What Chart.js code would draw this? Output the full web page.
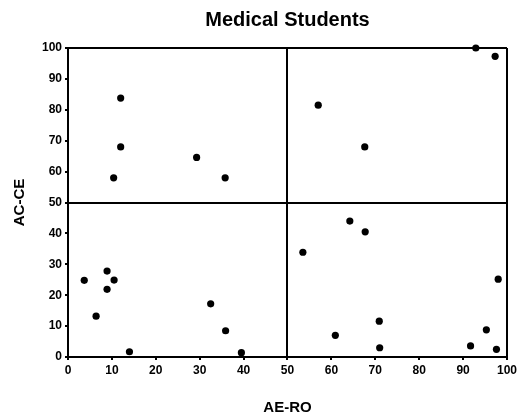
<!DOCTYPE html>
<html>
<head>
<meta charset="utf-8">
<title>Medical Students</title>
<script src="https://cdn.jsdelivr.net/npm/chart.js@4"></script>
<style>
  html, body { margin: 0; padding: 0; background: #fff; }
  #wrap { width: 520px; height: 417px; position: relative; }
</style>
</head>
<body>
<div id="wrap"><canvas id="quadChart"></canvas></div>
<script>
/* global Chart */
// AE-RO (x) and AC-CE (y) scores
var aeRo = [
  12.0, 12.0, 10.4, 29.3, 35.8,
  92.9, 97.3, 57.0, 67.6,
  3.7, 8.9, 10.5, 8.9, 6.4, 14.0, 32.5, 35.9, 39.5,
  64.2, 67.7, 53.5, 98.0, 70.9, 60.9, 71.0, 95.3, 91.7, 97.6
];
var acCe = [
  83.8, 68.0, 58.0, 64.6, 58.0,
  100, 97.3, 81.5, 68.0,
  24.8, 27.8, 24.9, 21.9, 13.2, 1.7, 17.2, 8.5, 1.4,
  44.0, 40.5, 33.9, 25.2, 11.6, 7.0, 3.0, 8.8, 3.6, 2.5
];

var axisMin = 0;
var axisMax = 100;
var axisStep = 10;
var quadrantSplit = 50;

var FONT = "'Liberation Sans', Arial, sans-serif";

function points() {
  return aeRo.map(function (x, i) {
    return { x: x, y: acCe[i] };
  });
}

// black line only at the split and at the far edge, so we get the 4-box frame
function frameColor(ctx) {
  if (ctx.tick && (ctx.tick.value === quadrantSplit || ctx.tick.value === axisMax)) {
    return "#000";
  }
  return "rgba(0,0,0,0)";
}

function makeAxis(titleText, isX) {
  return {
    type: "linear",
    min: axisMin,
    max: axisMax,
    border: { display: true, color: "#000", width: 2 },
    grid: {
      color: frameColor,
      lineWidth: 2,
      drawTicks: true,
      tickLength: 3,
      tickWidth: 2,
      tickColor: "#000",
    },
    ticks: {
      stepSize: axisStep,
      color: "#000",
      padding: 3,
      maxRotation: 0,
      font: { family: FONT, size: 12, weight: "bold" },
    },
    title: {
      display: true,
      text: titleText,
      color: "#000",
      font: { family: FONT, size: 15, weight: "bold" },
      padding: isX ? { top: 0, bottom: 0 } : { top: 11, bottom: 0 },
    },
    afterFit: function (scale) {
      if (isX) {
        scale.height = 60;
      } else {
        scale.width = 68;
      }
    },
  };
}

new Chart(document.getElementById("quadChart"), {
  type: "scatter",
  data: {
    datasets: [
      {
        label: "Medical Students",
        data: points(),
        backgroundColor: "#000",
        borderWidth: 0,
        pointRadius: 3.6,
        pointHoverRadius: 3.6,
        clip: false,
      },
    ],
  },
  options: {
    responsive: true,
    maintainAspectRatio: false,
    animation: false,
    layout: { padding: { top: 0, right: 12, bottom: 0, left: 0 } },
    plugins: {
      legend: { display: false },
      tooltip: { enabled: false },
      title: {
        display: true,
        text: "Medical Students",
        color: "#000",
        fullSize: false,
        font: { family: FONT, size: 20, weight: "bold" },
        padding: { top: 8, bottom: 16 },
      },
    },
    scales: {
      x: makeAxis("AE-RO", true),
      y: makeAxis("AC-CE", false),
    },
  },
});
</script>
</body>
</html>
